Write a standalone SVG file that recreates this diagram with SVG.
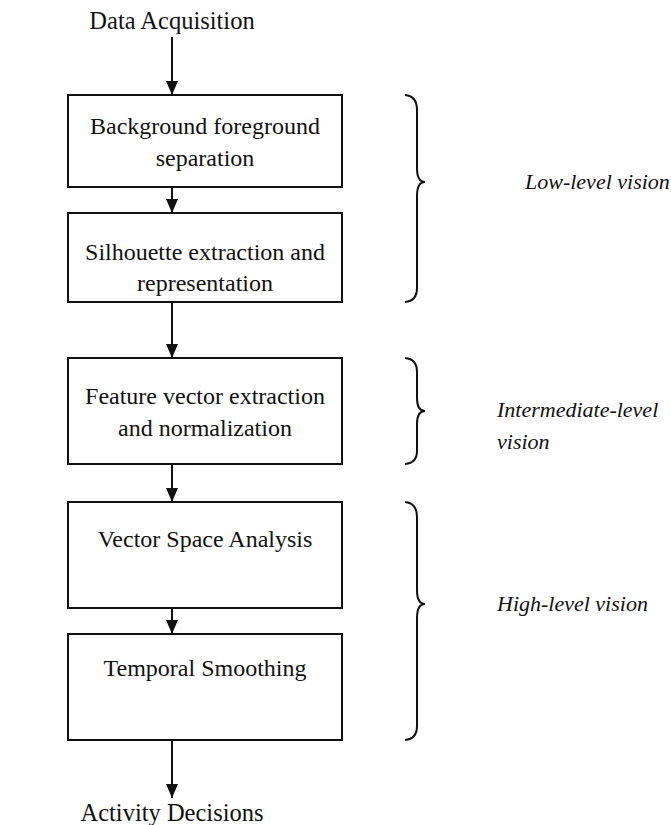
<svg xmlns="http://www.w3.org/2000/svg" width="671" height="825" viewBox="0 0 671 825">
<defs>
<marker id="ah" markerWidth="14" markerHeight="12" refX="14" refY="6" orient="auto" markerUnits="userSpaceOnUse" viewBox="0 0 14 12">
<path d="M0,0 L14,6 L0,12 Z" fill="#111"/>
</marker>
</defs>
<style>
text{font-family:"Liberation Serif","Times New Roman",Times,serif;font-size:24px;fill:#111;}
.c{text-anchor:middle;}
.i{font-style:italic;font-size:22px;}
.big{font-size:24.5px;}
rect{fill:#fff;stroke:#111;stroke-width:2;}
.con line{stroke:#111;stroke-width:2;}
.br{fill:none;stroke:#111;stroke-width:2;}
</style>
<rect x="0" y="0" width="671" height="825" style="fill:#fff;stroke:none"/>
<g font-family="Liberation Serif, Times New Roman, Times, serif">
<g id="data-acquisition"><text class="c big" x="172" y="29">Data Acquisition</text></g>
<g id="bg-fg-sep"><rect x="68" y="95" width="274" height="92"/><text class="c" x="205" y="134">Background foreground</text><text class="c" x="205" y="166">separation</text></g>
<g id="silhouette"><rect x="68" y="213" width="274" height="89"/><text class="c" x="205" y="260">Silhouette extraction and</text><text class="c" x="205" y="291">representation</text></g>
<g id="feature"><rect x="68" y="358" width="274" height="106"/><text class="c" x="205" y="404">Feature vector extraction</text><text class="c" x="205" y="436">and normalization</text></g>
<g id="vsa"><rect x="68" y="502" width="274" height="106"/><text class="c" x="205" y="547">Vector Space Analysis</text></g>
<g id="temporal"><rect x="68" y="634" width="274" height="106"/><text class="c" x="205" y="676">Temporal Smoothing</text></g>
<g id="activity"><text class="c big" x="172" y="821">Activity Decisions</text></g>
<g class="con" id="connectors">
<line x1="172" y1="37" x2="172" y2="95" marker-end="url(#ah)"/>
<line x1="172" y1="187" x2="172" y2="213" marker-end="url(#ah)"/>
<line x1="172" y1="302" x2="172" y2="358" marker-end="url(#ah)"/>
<line x1="172" y1="464" x2="172" y2="502" marker-end="url(#ah)"/>
<line x1="172" y1="608" x2="172" y2="634" marker-end="url(#ah)"/>
<line x1="172" y1="740" x2="172" y2="798" marker-end="url(#ah)"/>
</g>
<g id="low-level">
<path class="br" d="M405,95 Q417,96 417,110 L417,168 Q417,182 425,182 Q417,182 417,196 L417,288 Q417,301 405,302"/>
<text class="i" x="525" y="189">Low-level vision</text>
</g>
<g id="intermediate-level">
<path class="br" d="M405,358 Q417,359 417,372 L417,398 Q417,411 425,411 Q417,411 417,424 L417,451 Q417,463 405,464"/>
<text class="i" x="497" y="417">Intermediate-level</text>
<text class="i" x="497" y="449">vision</text>
</g>
<g id="high-level">
<path class="br" d="M405,502 Q417,503 417,517 L417,590 Q417,604 425,604 Q417,604 417,618 L417,726 Q417,739 405,740"/>
<text class="i" x="497" y="611">High-level vision</text>
</g>
</g>
</svg>
